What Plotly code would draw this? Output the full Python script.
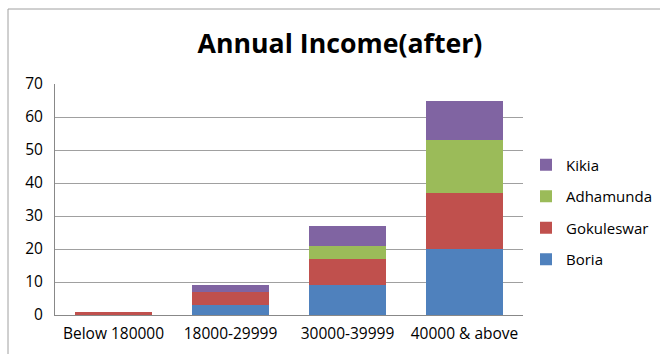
import plotly.graph_objects as go

categories = ["Below 180000", "18000-29999", "30000-39999", "40000 & above"]
boria = [0, 3, 9, 20]
gokuleswar = [1, 4, 8, 17]
adhamunda = [0, 0, 4, 16]
kikia = [0, 2, 6, 12]

series = [
    ("Boria", boria, "#4F81BD", 4),
    ("Gokuleswar", gokuleswar, "#C0504D", 3),
    ("Adhamunda", adhamunda, "#9BBB59", 2),
    ("Kikia", kikia, "#8064A2", 1),
]

font_family = "'Open Sans', 'Noto Sans', sans-serif"

fig = go.Figure()
for name, vals, color, rank in series:
    fig.add_trace(go.Bar(
        x=categories, y=vals, name=name, marker_color=color,
        marker_line_width=0, legendgroup=name, legendrank=rank,
    ))

fig.update_layout(
    width=660, height=354,
    barmode="stack", bargap=0.35,
    margin=dict(l=55, r=137, t=84, b=39, autoexpand=False),
    paper_bgcolor="white", plot_bgcolor="white",
    font=dict(family=font_family, size=15.5, color="#000000"),
    title=dict(text="<b>Annual Income(after)</b>", x=340/660, xanchor="center",
               y=1 - 44/354, yanchor="middle", font=dict(size=26.7, family=font_family)),
    legend=dict(xref="container", yref="container", x=526/660, xanchor="left",
                y=1 - 212/354, yanchor="middle",
                traceorder="grouped", tracegroupgap=9,
                font=dict(size=15), itemwidth=30),
    showlegend=True,
)
fig.update_yaxes(range=[0, 70], dtick=10, showgrid=True, gridcolor="#A0A0A0",
                 gridwidth=1, showline=True, linecolor="#888888", linewidth=1,
                 ticks="", zeroline=False, ticklabelstandoff=8)
fig.update_xaxes(showline=True, linecolor="#888888", linewidth=1, ticks="",
                 ticklabelstandoff=4)

# outer chart border (partially visible in the reference)
fig.add_shape(type="line", xref="paper", yref="paper", x0=-47/468, x1=2.0,
              y0=1 + (84 - 9) / 231, y1=1 + (84 - 9) / 231,
              line=dict(color="#A0A0A0", width=1))
fig.add_shape(type="line", xref="paper", yref="paper", x0=-47/468, x1=-47/468,
              y0=-1.0, y1=1 + (84 - 9) / 231,
              line=dict(color="#A0A0A0", width=1))

fig.write_html("out.html")
